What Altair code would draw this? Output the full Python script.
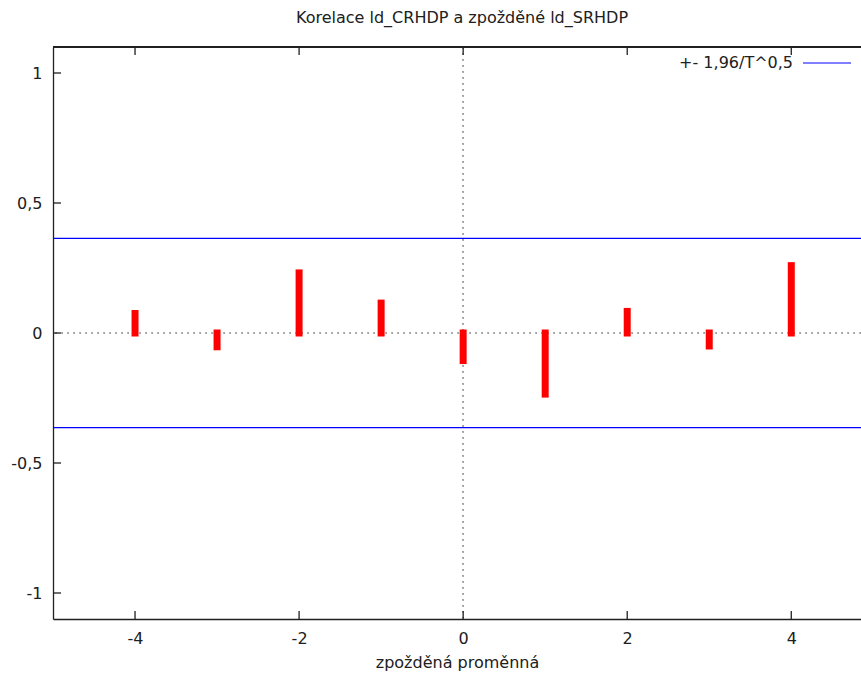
import altair as alt
import pandas as pd

lags = [-4, -3, -2, -1, 0, 1, 2, 3, 4]
corr = [0.075, -0.053, 0.231, 0.115, -0.106, -0.235, 0.083, -0.050, 0.259]
band = 0.3637
x_ticks = [-4, -2, 0, 2, 4]
y_ticks = [-1, -0.5, 0, 0.5, 1]
title = "Korelace ld_CRHDP a zpožděné ld_SRHDP"
x_title = "zpožděná proměnná"
legend_label = "+- 1,96/T^0,5"

W, H = 808, 572
FONT = "DejaVu Sans"
FS = 16

xs = alt.Scale(domain=[-5, 4.85], nice=False, zero=False)
ys = alt.Scale(domain=[-1.1, 1.1], nice=False, zero=False)

bars_df = pd.DataFrame({"lag": lags, "corr": corr, "base": [0] * len(lags)})
band_df = pd.DataFrame({"y": [band, -band]})
xt_df = pd.DataFrame({"x": x_ticks})
yt_df = pd.DataFrame({"y": y_ticks})

x_axis = alt.Axis(values=x_ticks, ticks=False, grid=False, domainColor="#202020",
                  domainWidth=1.3, labelFont=FONT, labelFontSize=FS, labelColor="#202020",
                  labelPadding=11, labelExpr="toString(datum.value)",
                  title=x_title, titleFont=FONT, titleFontSize=FS,
                  titleFontWeight="normal", titleColor="#202020", titlePadding=8)
y_axis = alt.Axis(values=y_ticks, ticks=False, grid=False, domainColor="#202020",
                  domainWidth=1.3, labelFont=FONT, labelFontSize=FS, labelColor="#202020",
                  labelPadding=11, labelExpr="replace(toString(datum.value), '.', ',')",
                  title=None)

axes_layer = alt.Chart(xt_df).mark_point(opacity=0).encode(
    x=alt.X("x:Q", scale=xs, axis=x_axis),
    y=alt.Y("x:Q", scale=ys, axis=y_axis),
)

zero_h = alt.Chart(xt_df).mark_rule(color="#a0a0a0", strokeDash=[1.5, 4.5], strokeWidth=1.2).encode(
    y=alt.datum(0, scale=ys)
)
zero_v = alt.Chart(xt_df).mark_rule(color="#a0a0a0", strokeDash=[1.5, 4.5], strokeWidth=1.2).encode(
    x=alt.datum(0, scale=xs)
)

band_rules = alt.Chart(band_df).mark_rule(color="#0000ff", strokeWidth=1.2).encode(
    y=alt.Y("y:Q", scale=ys)
)

bars = alt.Chart(bars_df).mark_rule(color="#ff0000", strokeWidth=7, strokeCap="square").encode(
    x=alt.X("lag:Q", scale=xs),
    y=alt.Y("corr:Q", scale=ys),
    y2="base:Q",
)

top_border = alt.Chart(xt_df).mark_rule(color="#202020", strokeWidth=1.3).encode(
    x=alt.value(0), x2=alt.value(W), y=alt.value(0)
)
xticks_bottom = alt.Chart(xt_df).mark_rule(color="#202020", strokeWidth=1.3).encode(
    x=alt.X("x:Q", scale=xs), y=alt.value(H), y2=alt.value(H - 8)
)
xticks_top = alt.Chart(xt_df).mark_rule(color="#202020", strokeWidth=1.3).encode(
    x=alt.X("x:Q", scale=xs), y=alt.value(0), y2=alt.value(8)
)
yticks_left = alt.Chart(yt_df).mark_rule(color="#202020", strokeWidth=1.3).encode(
    y=alt.Y("y:Q", scale=ys), x=alt.value(0), x2=alt.value(8)
)

leg_df = pd.DataFrame({"label": [legend_label]})
leg_text = alt.Chart(leg_df).mark_text(align="right", baseline="middle", font=FONT,
                                       fontSize=FS, color="#202020").encode(
    text="label:N", x=alt.value(740), y=alt.value(16)
)
leg_line = alt.Chart(leg_df).mark_rule(color="#0000ff", strokeWidth=1.2).encode(
    x=alt.value(750), x2=alt.value(798), y=alt.value(16)
)

title_df = pd.DataFrame({"t": [title]})
title_text = alt.Chart(title_df).mark_text(align="center", baseline="middle", font=FONT,
                                           fontSize=FS, color="#202020").encode(
    text="t:N", x=alt.value(409), y=alt.value(-29)
)

chart = alt.layer(
    axes_layer, zero_h, zero_v, band_rules, bars, top_border,
    xticks_bottom, xticks_top, yticks_left, leg_text, leg_line, title_text
).properties(
    width=W, height=H,
    autosize=alt.AutoSizeParams(type="none"),
    padding={"left": 53, "top": 47, "right": 0, "bottom": 55},
).configure_view(stroke=None).configure(background="white")

chart.save("out.html", embed_options={"renderer": "svg", "actions": False})
